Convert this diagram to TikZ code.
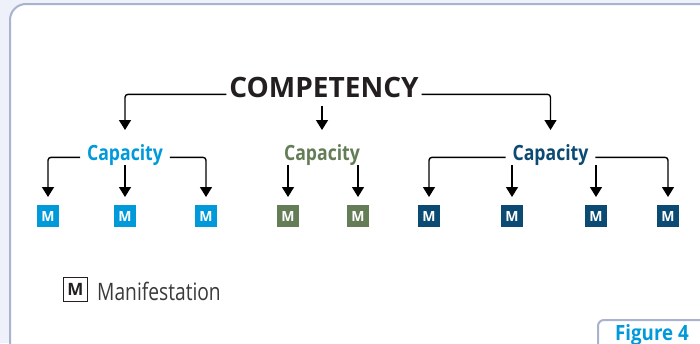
\documentclass[tikz,border=0pt]{standalone}
\usepackage{fontspec}
\setmainfont{Open Sans}
\newfontfamily\titlefont{Open Sans}[FakeStretch=1.0]
\newfontfamily\capfont{Open Sans}[FakeStretch=0.84]
\newfontfamily\legfont{Open Sans}[FakeStretch=0.8]
\newfontfamily\tabfont{Open Sans}[FakeStretch=0.89]
\usetikzlibrary{arrows.meta}
\definecolor{capblue}{HTML}{009ADA}
\definecolor{capgreen}{HTML}{647D57}
\definecolor{capnavy}{HTML}{0B4A72}
\definecolor{framecol}{HTML}{A9B3CF}
\definecolor{pagebg}{HTML}{EEF1FA}
\definecolor{inkdark}{HTML}{231F20}
\definecolor{leggray}{HTML}{3A3A3A}
\begin{document}
\begin{tikzpicture}[x=1pt,y=-1pt,
  framepath/.style={draw=framecol,line width=2pt,fill=white},
  conn/.style={draw=black,line width=1.4pt,rounded corners=3pt,
    -{Triangle[width=12pt,length=10pt]}},
  titlebox/.style={inner xsep=3pt,inner ysep=0pt,outer sep=0pt,
    text height=21pt,text depth=9pt,anchor=base,text=inkdark,
    font=\titlefont\bfseries\fontsize{28}{30}\selectfont},
  capbox/.style={inner xsep=7pt,inner ysep=0pt,outer sep=0pt,
    text height=16pt,text depth=5pt,anchor=base,
    font=\capfont\bfseries\fontsize{21}{24}\selectfont},
  mbox/.style={fill=#1,text=white,minimum size=22pt,inner sep=0pt,outer sep=0pt,
    font=\bfseries\fontsize{14}{14}\selectfont},
]
% page background and outer frame
\fill[pagebg] (0,0) rectangle (700,343);
\useasboundingbox (0,0) rectangle (700,343);
\path[framepath,rounded corners=16pt] (10,4) rectangle (740,380);

% title and capacities
\node[titlebox] (comp) at (324,97) {COMPETENCY};
\node[capbox,text=capblue]  (cap1) at (125,160) {Capacity};
\node[capbox,text=capgreen] (cap2) at (322,160) {Capacity};
\node[capbox,text=capnavy]  (cap3) at (550.5,160) {Capacity};

% manifestations
\node[mbox=capblue]  (m1) at (48,216) {M};
\node[mbox=capblue]  (m2) at (125,216) {M};
\node[mbox=capblue]  (m3) at (206,216) {M};
\node[mbox=capgreen] (m4) at (288,216) {M};
\node[mbox=capgreen] (m5) at (358,216) {M};
\node[mbox=capnavy]  (m6) at (429,216) {M};
\node[mbox=capnavy]  (m7) at (512,216) {M};
\node[mbox=capnavy]  (m8) at (596,216) {M};
\node[mbox=capnavy]  (m9) at (668,216) {M};

% competency to capacities
\draw[conn] (comp.mid west) -| ([yshift=14pt]cap1.north);
\draw[conn] (cap2.north |- comp.south) -- ([yshift=14pt]cap2.north);
\draw[conn] (comp.mid east) -| ([yshift=14pt]cap3.north);

% capacities to manifestations
\draw[conn] (cap1.mid west) -| ([yshift=8pt]m1.north);
\draw[conn] (m2.north |- cap1.south) -- ([yshift=8pt]m2.north);
\draw[conn] (cap1.mid east) -| ([yshift=8pt]m3.north);
\draw[conn] (m4.north |- cap2.south) -- ([yshift=8pt]m4.north);
\draw[conn] (m5.north |- cap2.south) -- ([yshift=8pt]m5.north);
\draw[conn] (cap3.mid west) -| ([yshift=8pt]m6.north);
\draw[conn] (m7.north |- cap3.south) -- ([yshift=8pt]m7.north);
\draw[conn] (m8.north |- cap3.south) -- ([yshift=8pt]m8.north);
\draw[conn] (cap3.mid east) -| ([yshift=8pt]m9.north);

% legend
\node[draw=inkdark,line width=1.3pt,minimum size=24pt,inner sep=0pt,
  font=\bfseries\fontsize{17}{17}\selectfont,text=inkdark] (leg) at (75.5,289.5) {M};
\node[anchor=base west,inner sep=0pt,text=leggray,
  font=\legfont\fontsize{24}{26}\selectfont] (legtext) at (97,300) {Manifestation};

% figure tab
\path[framepath,rounded corners=6pt] (598,360) -- (598,320) -- (720,320);
\node[anchor=base west,inner sep=0pt,text=capblue,
  font=\tabfont\bfseries\fontsize{21}{24}\selectfont] (tab) at (615,340) {Figure 4};
\end{tikzpicture}
\end{document}
